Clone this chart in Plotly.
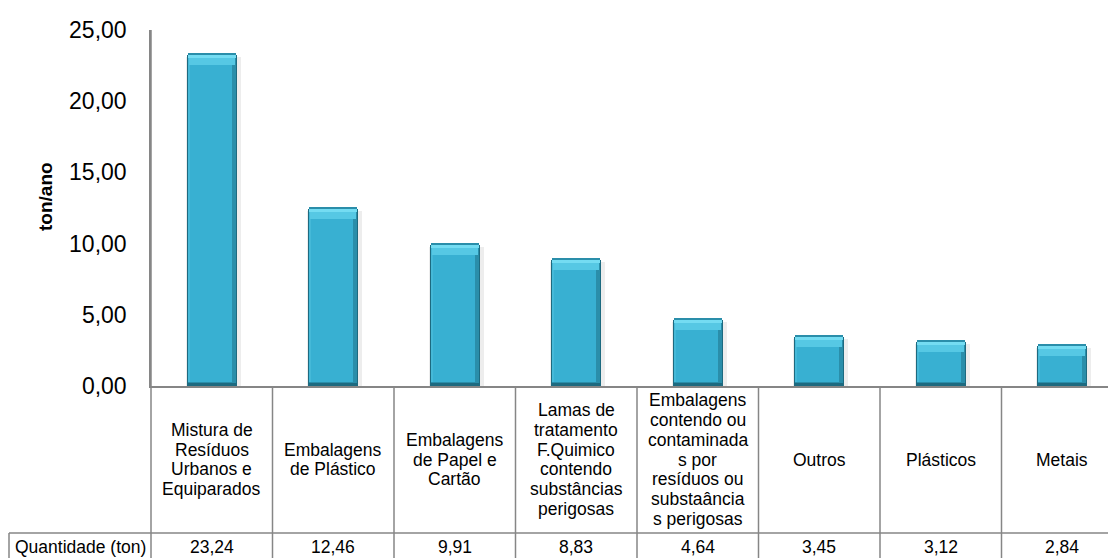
import plotly.graph_objects as go

categories = [
    "Mistura de|Resíduos|Urbanos e|Equiparados",
    "Embalagens|de Plástico",
    "Embalagens|de Papel e|Cartão",
    "Lamas de|tratamento|F.Quimico|contendo|substâncias|perigosas",
    "Embalagens|contendo ou|contaminada|s por|resíduos ou|substaância|s perigosas",
    "Outros",
    "Plásticos",
    "Metais",
]
values = [23.24, 12.46, 9.91, 8.83, 4.64, 3.45, 3.12, 2.84]
row_label = "Quantidade (ton)"
y_title = "ton/ano"
y_ticks = [0, 5, 10, 15, 20, 25]

W, H = 1108, 558
L, R, T, B = 151, 0, 30, 172
PW, PH = W - L - R, H - T - B
COL = 121.5  # px per category column
x_max = -0.5 + PW / COL

def px_x(px):
    return (px - L) / PW

def px_y(py):
    return (H - B - py) / PH

FONT = "Liberation Sans, Arial, sans-serif"
GRID = "#868686"

xs = list(range(len(values)))
unit_y = 25 / PH           # data units per px (y)
unit_x = 1 / COL           # data units per px (x)
bw = 0.41
n = len(values)

fig = go.Figure()
# soft shadow
fig.add_trace(go.Bar(x=xs, y=values, base=[-2 * unit_y] * n, width=bw + 5 * unit_x, offset=-bw / 2 - 1 * unit_x,
                     marker=dict(color="rgba(0,0,0,0.07)", line=dict(width=0)),
                     hoverinfo="skip", showlegend=False))
# dark edge
fig.add_trace(go.Bar(x=xs, y=values, width=bw,
                     marker=dict(color="#1d6a80", line=dict(width=0)),
                     hoverinfo="skip", showlegend=False))
# right side bevel
fig.add_trace(go.Bar(x=xs, y=[v - 1 * unit_y for v in values], base=[3 * unit_y] * n,
                     width=bw - 2 * unit_x, offset=-bw / 2 + 1 * unit_x,
                     marker=dict(color="#2a8eaa", line=dict(width=0)),
                     hoverinfo="skip", showlegend=False))
# left side bevel (slightly lighter)
fig.add_trace(go.Bar(x=xs, y=[v - 5 * unit_y for v in values], base=[4 * unit_y] * n,
                     width=3 * unit_x, offset=-bw / 2 + 1 * unit_x,
                     marker=dict(color="#45b9d8", line=dict(width=0)),
                     hoverinfo="skip", showlegend=False))
# body
fig.add_trace(go.Bar(x=xs, y=[v - 6 * unit_y for v in values], base=[4 * unit_y] * n,
                     width=bw - 8 * unit_x, offset=-bw / 2 + 3 * unit_x,
                     marker=dict(color="#38b0d2", line=dict(width=0)),
                     hoverinfo="skip", showlegend=False))
# top bevel highlight
fig.add_trace(go.Bar(x=xs, y=[8 * unit_y] * n, base=[v - 10 * unit_y for v in values],
                     width=bw - 4 * unit_x, offset=-bw / 2 + 2 * unit_x,
                     marker=dict(color="#56c8e4", line=dict(width=0)),
                     hoverinfo="skip", showlegend=False))
fig.add_trace(go.Bar(x=xs, y=[3 * unit_y] * n, base=[v - 3 * unit_y for v in values],
                     width=bw - 2 * unit_x, offset=-bw / 2 + 1 * unit_x,
                     marker=dict(color="#74dcf2", line=dict(width=0)),
                     hoverinfo="skip", showlegend=False))

shapes = []
row_top = 533
for i in range(n):
    shapes.append(dict(type="line", xref="x", yref="paper", x0=i + 0.5, x1=i + 0.5,
                       y0=0, y1=px_y(H + 5), line=dict(color=GRID, width=1.5)))
shapes.append(dict(type="line", xref="paper", yref="paper", x0=0, x1=0,
                   y0=1, y1=px_y(H + 5), line=dict(color=GRID, width=1.5)))
shapes.append(dict(type="line", xref="paper", yref="paper", x0=px_x(9), x1=1.01,
                   y0=px_y(row_top), y1=px_y(row_top), line=dict(color=GRID, width=1.5)))
shapes.append(dict(type="line", xref="paper", yref="paper", x0=px_x(9), x1=px_x(9),
                   y0=px_y(row_top), y1=px_y(H + 5), line=dict(color=GRID, width=1.5)))

annotations = []
cell_center = (H - B + row_top) / 2
line_h = 19.7
FS = 17.5
for i, lab in enumerate(categories):
    lines = lab.split("|")
    m = len(lines)
    for k, ln in enumerate(lines):
        cy = cell_center + (k - (m - 1) / 2) * line_h
        annotations.append(dict(x=i, xref="x", y=px_y(cy), yref="paper", text=ln,
                                showarrow=False, xanchor="center", yanchor="middle",
                                font=dict(family=FONT, size=FS, color="#000")))
    annotations.append(dict(x=i, xref="x", y=px_y(547), yref="paper",
                            text=f"{values[i]:.2f}".replace(".", ","),
                            showarrow=False, xanchor="center", yanchor="middle",
                            font=dict(family=FONT, size=FS, color="#000")))
annotations.append(dict(x=px_x(80), xref="paper", y=px_y(547), yref="paper", text=row_label,
                        showarrow=False, xanchor="center", yanchor="middle",
                        font=dict(family=FONT, size=FS, color="#000")))
annotations.append(dict(x=px_x(45), xref="paper", y=px_y(197), yref="paper", text=f"<b>{y_title}</b>",
                        showarrow=False, textangle=-90, xanchor="center", yanchor="middle",
                        font=dict(family=FONT, size=19, color="#000")))

fig.update_layout(
    width=W, height=H, autosize=False,
    margin=dict(l=L, r=R, t=T, b=B, pad=0),
    paper_bgcolor="white", plot_bgcolor="white",
    barmode="overlay", bargap=0, showlegend=False,
    separators=",.",
    shapes=shapes, annotations=annotations,
    xaxis=dict(range=[-0.5, x_max], showticklabels=False, ticks="", showgrid=False,
               zeroline=False, showline=True, linecolor=GRID, linewidth=1.5, fixedrange=True),
    yaxis=dict(range=[0, 25], tickvals=y_ticks, tickformat=".2f", ticks="",
               showgrid=False, zeroline=False, showline=True, linecolor=GRID, linewidth=1.5,
               tickfont=dict(family=FONT, size=23, color="#000"), ticklabelstandoff=18,
               fixedrange=True),
)

fig.write_html("out.html")
